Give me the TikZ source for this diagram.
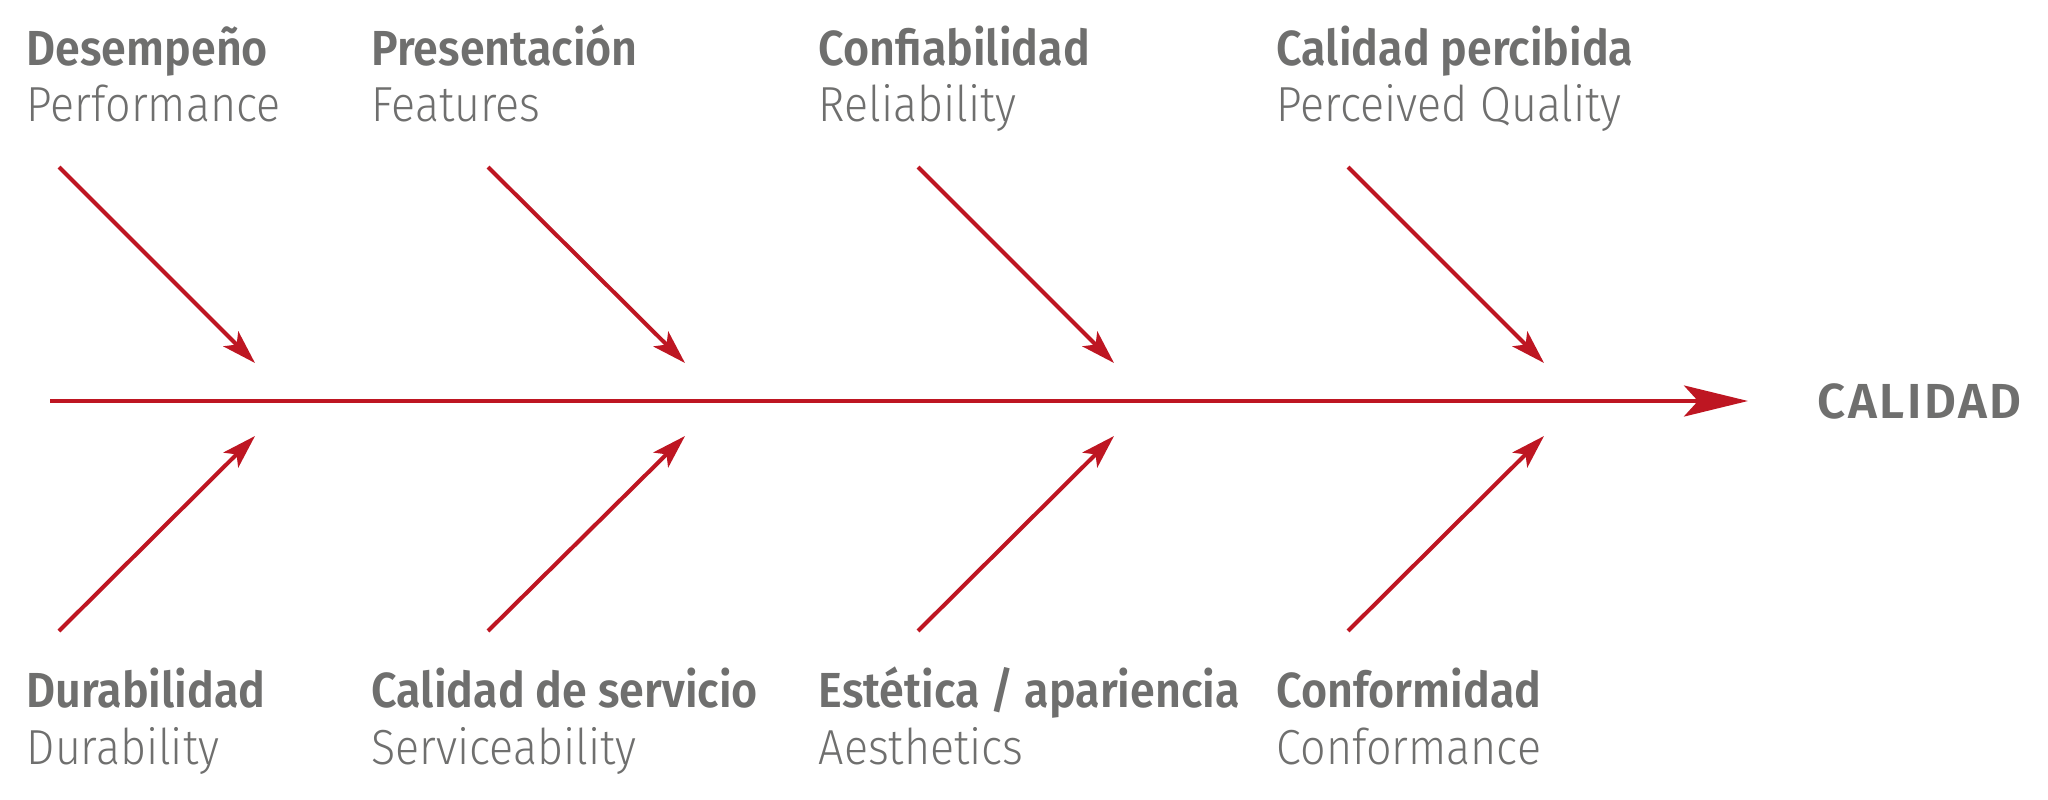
\documentclass[tikz,border=0pt]{standalone}
\usepackage{fontspec}
\setmainfont{Fira Sans}[UprightFont=* Light, BoldFont=* SemiBold, FakeStretch=0.91]
\newfontfamily\calfont{Fira Sans SemiBold}[LetterSpace=5]
\usetikzlibrary{arrows.meta}
\definecolor{qred}{HTML}{BE1622}
\definecolor{qgray}{HTML}{6F6F6E}
\begin{document}
\begin{tikzpicture}[x=0.01cm,y=-0.01cm,
  spine/.style={draw=qred,line width=1.15pt,-{Stealth[length=0.64cm,width=0.31cm,inset=0.14cm]}},
  bone/.style={draw=qred,line width=1.15pt,-{Stealth[length=0.34cm,width=0.21cm,inset=0.08cm]}},
  lab/.style={text=qgray,inner sep=0pt,anchor=base west,font=\fontsize{14}{16}\selectfont},
  labb/.style={lab,font=\fontsize{14}{16}\selectfont\bfseries},
  labc/.style={lab,font=\fontsize{14}{16}\selectfont\calfont}]
\useasboundingbox (0,0) rectangle (2048,800);
% spine
\coordinate (s0) at (50,401);
\coordinate (s1) at (1748,401);
\draw[spine] (s0) -- (s1);
\node[labc] (calidad) at (1817,418) {CALIDAD};
% top bones
\coordinate (ta1) at (59,167);   \coordinate (tb1) at (255,363);
\coordinate (ta2) at (488,167);  \coordinate (tb2) at (685,363);
\coordinate (ta3) at (918,167);  \coordinate (tb3) at (1114,363);
\coordinate (ta4) at (1348,167); \coordinate (tb4) at (1544,363);
\draw[bone] (ta1) -- (tb1);
\draw[bone] (ta2) -- (tb2);
\draw[bone] (ta3) -- (tb3);
\draw[bone] (ta4) -- (tb4);
% bottom bones
\coordinate (ba1) at (59,631);   \coordinate (bb1) at (255,436);
\coordinate (ba2) at (488,631);  \coordinate (bb2) at (685,436);
\coordinate (ba3) at (918,631);  \coordinate (bb3) at (1114,436);
\coordinate (ba4) at (1348,631); \coordinate (bb4) at (1544,436);
\draw[bone] (ba1) -- (bb1);
\draw[bone] (ba2) -- (bb2);
\draw[bone] (ba3) -- (bb3);
\draw[bone] (ba4) -- (bb4);
% top labels
\node[labb] (t1a) at (26,65) {Desempeño};
\node[lab]  (t1b) at (26,121) {Performance};
\node[labb] (t2a) at (371,65) {Presentación};
\node[lab]  (t2b) at (371,121) {Features};
\node[labb] (t3a) at (818,65) {Confiabilidad};
\node[lab]  (t3b) at (818,121) {Reliability};
\node[labb] (t4a) at (1276,65) {Calidad percibida};
\node[lab]  (t4b) at (1276,121) {Perceived Quality};
% bottom labels
\node[labb] (b1a) at (26,707) {Durabilidad};
\node[lab]  (b1b) at (26,764) {Durability};
\node[labb] (b2a) at (371,707) {Calidad de servicio};
\node[lab]  (b2b) at (371,764) {Serviceability};
\node[labb] (b3a) at (818,707) {Estética / apariencia};
\node[lab]  (b3b) at (818,764) {Aesthetics};
\node[labb] (b4a) at (1276,707) {Conformidad};
\node[lab]  (b4b) at (1276,764) {Conformance};
\end{tikzpicture}
\end{document}
